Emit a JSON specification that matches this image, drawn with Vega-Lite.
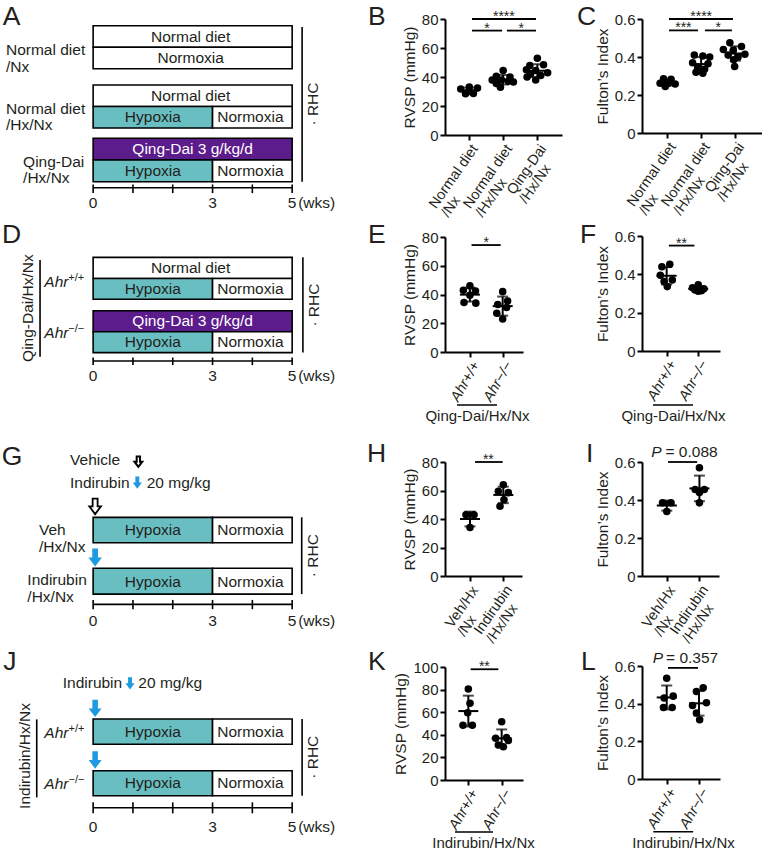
{
"$schema": "https://vega.github.io/schema/vega-lite/v6.json",
"background": "white",
"padding": 0,
"columns": 3,
"spacing": 0,
"align": "each",
"bounds": "flush",
"config": {
 "font": "Liberation Sans",
 "view": {"stroke": null},
 "axis": {"grid": false, "labelOverlap": false, "domainColor": "#000000", "domainWidth": 2, "tickColor": "#000000", "tickWidth": 2, "tickSize": 5, "labelFont": "Liberation Sans", "labelFontSize": 15, "labelColor": "#231f20", "labelPadding": 2, "titleFont": "Liberation Sans", "titleFontSize": 15.5, "titleFontWeight": "normal", "titleColor": "#231f20", "titlePadding": 4},
 "axisY": {"labelOverlap": false},
 "axisLeft": {"labelOverlap": false},
 "axisQuantitative": {"labelOverlap": false},
 "text": {"font": "Liberation Sans", "fontSize": 15.5, "color": "#231f20"}
},
"datasets": {
 "sA": [
  {"el":"L","x":-2.27,"y":1.16,"label":"A"},
  {"el":"lab","x":-2.19,"y":2.34,"label":"Normal diet\n/Nx"},
  {"el":"lab","x":-2.19,"y":5.05,"label":"Normal diet\n/Hx/Nx"},
  {"el":"lab","x":-1.76,"y":7.53,"label":"Qing-Dai\n/Hx/Nx"},
  {"el":"box","x":0,"x2":5,"y":1.2,"y2":2.2,"kind":"Normal diet"},
  {"el":"box","x":0,"x2":5,"y":2.2,"y2":3.2,"kind":"Normoxia"},
  {"el":"box","x":0,"x2":5,"y":3.95,"y2":4.95,"kind":"Normal diet"},
  {"el":"box","x":0,"x2":3,"y":4.95,"y2":5.95,"kind":"Hypoxia"},
  {"el":"box","x":3,"x2":5,"y":4.95,"y2":5.95,"kind":"Normoxia"},
  {"el":"box","x":0,"x2":5,"y":6.43,"y2":7.44,"kind":"Qing-Dai"},
  {"el":"box","x":0,"x2":3,"y":7.44,"y2":8.45,"kind":"Hypoxia"},
  {"el":"box","x":3,"x2":5,"y":7.44,"y2":8.45,"kind":"Normoxia"},
  {"el":"bt","x":2.45,"y":1.7,"label":"Normal diet","kind":"Normal diet"},
  {"el":"bt","x":2.45,"y":2.7,"label":"Normoxia","kind":"Normoxia"},
  {"el":"bt","x":2.45,"y":4.45,"label":"Normal diet","kind":"Normal diet"},
  {"el":"bt","x":1.5,"y":5.45,"label":"Hypoxia","kind":"Hypoxia"},
  {"el":"bt","x":3.95,"y":5.45,"label":"Normoxia","kind":"Normoxia"},
  {"el":"bt","x":2.5,"y":6.94,"label":"Qing-Dai 3 g/kg/d","kind":"Qing-Dai"},
  {"el":"bt","x":1.5,"y":7.95,"label":"Hypoxia","kind":"Hypoxia"},
  {"el":"bt","x":3.95,"y":7.95,"label":"Normoxia","kind":"Normoxia"},
  {"el":"hr","x":0,"x2":5,"y":8.73},
  {"el":"vr","x":0,"y":8.58,"y2":8.98},
  {"el":"vr","x":1,"y":8.58,"y2":8.98},
  {"el":"vr","x":2,"y":8.58,"y2":8.98},
  {"el":"vr","x":3,"y":8.58,"y2":8.98},
  {"el":"vr","x":4,"y":8.58,"y2":8.98},
  {"el":"vr","x":5,"y":8.58,"y2":8.98},
  {"el":"tl","x":0,"y":9.42,"label":"0"},
  {"el":"tl","x":3,"y":9.42,"label":"3"},
  {"el":"tl","x":5,"y":9.42,"label":"5"},
  {"el":"lab","x":5.15,"y":9.42,"label":"(wks)"},
  {"el":"vr","x":5.25,"y":1.25,"y2":8.45},
  {"el":"rot","x":5.53,"y":4.84,"label":"· RHC"}
 ],
 "sD": [
  {"el":"L","x":-2.29,"y":1.316,"label":"D"},
  {"el":"rot","x":-1.636,"y":4.33,"label":"Qing-Dai/Hx/Nx"},
  {"el":"vr","x":-1.334,"y":2.09,"y2":6.59},
  {"el":"it","x":-1.227,"y":3.36,"label":"Ahr"},
  {"el":"sup","x":-0.623,"y":3.36,"label":"+/+"},
  {"el":"it","x":-1.227,"y":5.74,"label":"Ahr"},
  {"el":"sup","x":-0.623,"y":5.74,"label":"−/−"},
  {"el":"box","x":0,"x2":5,"y":1.97,"y2":2.95,"kind":"Normal diet"},
  {"el":"box","x":0,"x2":3,"y":2.95,"y2":3.92,"kind":"Hypoxia"},
  {"el":"box","x":3,"x2":5,"y":2.95,"y2":3.92,"kind":"Normoxia"},
  {"el":"box","x":0,"x2":5,"y":4.45,"y2":5.43,"kind":"Qing-Dai"},
  {"el":"box","x":0,"x2":3,"y":5.43,"y2":6.4,"kind":"Hypoxia"},
  {"el":"box","x":3,"x2":5,"y":5.43,"y2":6.4,"kind":"Normoxia"},
  {"el":"bt","x":2.45,"y":2.46,"label":"Normal diet","kind":"Normal diet"},
  {"el":"bt","x":1.5,"y":3.435,"label":"Hypoxia","kind":"Hypoxia"},
  {"el":"bt","x":3.95,"y":3.435,"label":"Normoxia","kind":"Normoxia"},
  {"el":"bt","x":2.5,"y":4.94,"label":"Qing-Dai 3 g/kg/d","kind":"Qing-Dai"},
  {"el":"bt","x":1.5,"y":5.915,"label":"Hypoxia","kind":"Hypoxia"},
  {"el":"bt","x":3.95,"y":5.915,"label":"Normoxia","kind":"Normoxia"},
  {"el":"hr","x":0,"x2":5,"y":6.79},
  {"el":"vr","x":0,"y":6.63,"y2":6.98},
  {"el":"vr","x":1,"y":6.63,"y2":6.98},
  {"el":"vr","x":2,"y":6.63,"y2":6.98},
  {"el":"vr","x":3,"y":6.63,"y2":6.98},
  {"el":"vr","x":4,"y":6.63,"y2":6.98},
  {"el":"vr","x":5,"y":6.63,"y2":6.98},
  {"el":"tl","x":0,"y":7.47,"label":"0"},
  {"el":"tl","x":3,"y":7.47,"label":"3"},
  {"el":"tl","x":5,"y":7.47,"label":"5"},
  {"el":"lab","x":5.15,"y":7.47,"label":"(wks)"},
  {"el":"vr","x":5.27,"y":1.97,"y2":6.4},
  {"el":"rot","x":5.55,"y":4.19,"label":"· RHC"}
 ],
 "sG": [
  {"el":"L","x":-2.297,"y":2.33,"label":"G"},
  {"el":"lab","x":-0.58,"y":2.09,"label":"Vehicle"},
  {"el":"aos","x":1.136,"y":2.17},
  {"el":"lab","x":-0.58,"y":3.18,"label":"Indirubin"},
  {"el":"abs","x":1.11,"y":3.14},
  {"el":"lab","x":1.347,"y":3.18,"label":"20 mg/kg"},
  {"el":"ao","x":0.05,"y":4.25},
  {"el":"box","x":0,"x2":3,"y":4.76,"y2":5.94,"kind":"Hypoxia"},
  {"el":"box","x":3,"x2":5,"y":4.76,"y2":5.94,"kind":"Normoxia"},
  {"el":"bt","x":1.5,"y":5.37,"label":"Hypoxia","kind":"Hypoxia"},
  {"el":"bt","x":3.95,"y":5.37,"label":"Normoxia","kind":"Normoxia"},
  {"el":"ab","x":0.05,"y":6.63},
  {"el":"box","x":0,"x2":3,"y":7.13,"y2":8.33,"kind":"Hypoxia"},
  {"el":"box","x":3,"x2":5,"y":7.13,"y2":8.33,"kind":"Normoxia"},
  {"el":"bt","x":1.5,"y":7.75,"label":"Hypoxia","kind":"Hypoxia"},
  {"el":"bt","x":3.95,"y":7.75,"label":"Normoxia","kind":"Normoxia"},
  {"el":"lab","x":-1.36,"y":5.35,"label":"Veh\n/Hx/Nx"},
  {"el":"lab","x":-1.653,"y":7.69,"label":"Indirubin\n/Hx/Nx"},
  {"el":"hr","x":0,"x2":5,"y":8.81},
  {"el":"vr","x":0,"y":8.6,"y2":9.03},
  {"el":"vr","x":1,"y":8.6,"y2":9.03},
  {"el":"vr","x":2,"y":8.6,"y2":9.03},
  {"el":"vr","x":3,"y":8.6,"y2":9.03},
  {"el":"vr","x":4,"y":8.6,"y2":9.03},
  {"el":"vr","x":5,"y":8.6,"y2":9.03},
  {"el":"tl","x":0,"y":9.6,"label":"0"},
  {"el":"tl","x":3,"y":9.6,"label":"3"},
  {"el":"tl","x":5,"y":9.6,"label":"5"},
  {"el":"lab","x":5.15,"y":9.6,"label":"(wks)"},
  {"el":"vr","x":5.24,"y":4.76,"y2":8.33},
  {"el":"rot","x":5.52,"y":6.54,"label":"· RHC"}
 ],
 "sJ": [
  {"el":"L","x":-2.26,"y":2.09,"label":"J"},
  {"el":"lab","x":-0.764,"y":2.71,"label":"Indirubin"},
  {"el":"abs","x":0.927,"y":2.71},
  {"el":"lab","x":1.136,"y":2.71,"label":"20 mg/kg"},
  {"el":"ab","x":0.05,"y":3.88},
  {"el":"box","x":0,"x2":3,"y":4.37,"y2":5.55,"kind":"Hypoxia"},
  {"el":"box","x":3,"x2":5,"y":4.37,"y2":5.55,"kind":"Normoxia"},
  {"el":"bt","x":1.5,"y":4.97,"label":"Hypoxia","kind":"Hypoxia"},
  {"el":"bt","x":3.95,"y":4.97,"label":"Normoxia","kind":"Normoxia"},
  {"el":"ab","x":0.05,"y":6.28},
  {"el":"box","x":0,"x2":3,"y":6.78,"y2":7.94,"kind":"Hypoxia"},
  {"el":"box","x":3,"x2":5,"y":6.78,"y2":7.94,"kind":"Normoxia"},
  {"el":"bt","x":1.5,"y":7.37,"label":"Hypoxia","kind":"Hypoxia"},
  {"el":"bt","x":3.95,"y":7.37,"label":"Normoxia","kind":"Normoxia"},
  {"el":"vr","x":-1.417,"y":4.39,"y2":8.02},
  {"el":"rot","x":-1.711,"y":6.09,"label":"Indirubin/Hx/Nx"},
  {"el":"it","x":-1.226,"y":5.27,"label":"Ahr"},
  {"el":"sup","x":-0.62,"y":5.27,"label":"+/+"},
  {"el":"it","x":-1.226,"y":7.64,"label":"Ahr"},
  {"el":"sup","x":-0.62,"y":7.64,"label":"−/−"},
  {"el":"hr","x":0,"x2":5,"y":8.5},
  {"el":"vr","x":0,"y":8.25,"y2":8.76},
  {"el":"vr","x":1,"y":8.25,"y2":8.76},
  {"el":"vr","x":2,"y":8.25,"y2":8.76},
  {"el":"vr","x":3,"y":8.25,"y2":8.76},
  {"el":"vr","x":4,"y":8.25,"y2":8.76},
  {"el":"vr","x":5,"y":8.25,"y2":8.76},
  {"el":"tl","x":0,"y":9.38,"label":"0"},
  {"el":"tl","x":3,"y":9.38,"label":"3"},
  {"el":"tl","x":5,"y":9.38,"label":"5"},
  {"el":"lab","x":5.15,"y":9.38,"label":"(wks)"},
  {"el":"vr","x":5.25,"y":4.37,"y2":7.94},
  {"el":"rot","x":5.53,"y":6.15,"label":"· RHC"}
 ],
 "B": [
  {"g":1,"xp":0.76,"v":31.7},{"g":1,"xp":1.01,"v":33.1},{"g":1,"xp":1.25,"v":32.4},{"g":1,"xp":0.9,"v":28.5},{"g":1,"xp":1.13,"v":28.7},{"g":1,"xp":1.0,"v":30.1},
  {"g":2,"xp":2.0,"v":44.5},{"g":2,"xp":1.8,"v":40.5},{"g":2,"xp":2.2,"v":40},{"g":2,"xp":1.68,"v":38},{"g":2,"xp":1.95,"v":38},{"g":2,"xp":2.15,"v":37},{"g":2,"xp":1.8,"v":35.5},{"g":2,"xp":1.92,"v":33},{"g":2,"xp":2.3,"v":36.5},
  {"g":3,"xp":3.0,"v":53},{"g":3,"xp":2.78,"v":48},{"g":3,"xp":3.18,"v":48.5},{"g":3,"xp":2.68,"v":45},{"g":3,"xp":2.95,"v":44.5},{"g":3,"xp":3.3,"v":43},{"g":3,"xp":2.8,"v":42},{"g":3,"xp":3.1,"v":41},{"g":3,"xp":2.95,"v":38},{"g":3,"xp":2.7,"v":40}
 ],
 "C": [
  {"g":1,"xp":0.9,"v":0.285},{"g":1,"xp":1.12,"v":0.283},{"g":1,"xp":0.8,"v":0.262},{"g":1,"xp":1.03,"v":0.26},{"g":1,"xp":1.24,"v":0.258},{"g":1,"xp":0.95,"v":0.245},
  {"g":2,"xp":1.8,"v":0.41},{"g":2,"xp":2.05,"v":0.405},{"g":2,"xp":2.25,"v":0.4},{"g":2,"xp":1.75,"v":0.37},{"g":2,"xp":2.2,"v":0.365},{"g":2,"xp":1.9,"v":0.345},{"g":2,"xp":2.1,"v":0.335},{"g":2,"xp":1.85,"v":0.32},{"g":2,"xp":2.05,"v":0.315},
  {"g":3,"xp":2.84,"v":0.475},{"g":3,"xp":3.18,"v":0.455},{"g":3,"xp":2.65,"v":0.44},{"g":3,"xp":2.94,"v":0.435},{"g":3,"xp":3.28,"v":0.415},{"g":3,"xp":2.79,"v":0.41},{"g":3,"xp":3.08,"v":0.4},{"g":3,"xp":2.95,"v":0.385},{"g":3,"xp":2.98,"v":0.35}
 ],
 "E": [
  {"g":1,"xp":1.0,"v":46},{"g":1,"xp":0.8,"v":43},{"g":1,"xp":1.17,"v":42.5},{"g":1,"xp":1.0,"v":39.5},{"g":1,"xp":0.82,"v":34.5},{"g":1,"xp":1.18,"v":34},
  {"g":2,"xp":2.0,"v":42},{"g":2,"xp":2.15,"v":35.5},{"g":2,"xp":1.85,"v":33},{"g":2,"xp":2.12,"v":31},{"g":2,"xp":1.82,"v":27},{"g":2,"xp":2.0,"v":23}
 ],
 "F": [
  {"g":1,"xp":1.1,"v":0.452},{"g":1,"xp":0.85,"v":0.44},{"g":1,"xp":0.8,"v":0.395},{"g":1,"xp":1.18,"v":0.37},{"g":1,"xp":0.92,"v":0.362},{"g":1,"xp":1.02,"v":0.336},
  {"g":2,"xp":2.0,"v":0.345},{"g":2,"xp":1.82,"v":0.33},{"g":2,"xp":2.18,"v":0.325},{"g":2,"xp":1.9,"v":0.318},{"g":2,"xp":2.1,"v":0.315},{"g":2,"xp":2.0,"v":0.312}
 ],
 "H": [
  {"g":1,"xp":0.88,"v":43},{"g":1,"xp":1.12,"v":43},{"g":1,"xp":1.0,"v":34},
  {"g":2,"xp":2.0,"v":64},{"g":2,"xp":1.85,"v":59.5},{"g":2,"xp":2.15,"v":58.5},{"g":2,"xp":2.02,"v":53.5},{"g":2,"xp":1.9,"v":49}
 ],
 "I": [
  {"g":1,"xp":0.87,"v":0.386},{"g":1,"xp":1.13,"v":0.386},{"g":1,"xp":1.0,"v":0.34},
  {"g":2,"xp":2.0,"v":0.57},{"g":2,"xp":1.87,"v":0.455},{"g":2,"xp":2.15,"v":0.455},{"g":2,"xp":2.0,"v":0.44},{"g":2,"xp":2.0,"v":0.385}
 ],
 "K": [
  {"g":1,"xp":1.0,"v":80.5},{"g":1,"xp":1.05,"v":68},{"g":1,"xp":0.98,"v":59.5},{"g":1,"xp":0.84,"v":48.5},{"g":1,"xp":1.12,"v":48.5},
  {"g":2,"xp":2.0,"v":51.5},{"g":2,"xp":2.15,"v":37.5},{"g":2,"xp":1.82,"v":37},{"g":2,"xp":2.2,"v":35},{"g":2,"xp":1.9,"v":31},{"g":2,"xp":2.05,"v":29.5}
 ],
 "L": [
  {"g":1,"xp":1.0,"v":0.535},{"g":1,"xp":1.2,"v":0.44},{"g":1,"xp":0.92,"v":0.43},{"g":1,"xp":0.9,"v":0.38},{"g":1,"xp":1.17,"v":0.38},
  {"g":2,"xp":2.13,"v":0.485},{"g":2,"xp":1.92,"v":0.465},{"g":2,"xp":2.23,"v":0.405},{"g":2,"xp":1.8,"v":0.39},{"g":2,"xp":1.92,"v":0.35},{"g":2,"xp":2.02,"v":0.315}
 ],
 "sig": [
  {"p":"B","x1":1.09,"x2":2.96,"xm":2.02,"y":80,"t":"****"},
  {"p":"B","x1":1.09,"x2":1.97,"xm":1.53,"y":72,"t":"*"},
  {"p":"B","x1":2.11,"x2":2.96,"xm":2.53,"y":72,"t":"*"},
  {"p":"C","x1":1.06,"x2":2.93,"xm":2.0,"y":0.6,"t":"****"},
  {"p":"C","x1":1.06,"x2":1.91,"xm":1.48,"y":0.54,"t":"***"},
  {"p":"C","x1":2.11,"x2":2.9,"xm":2.5,"y":0.54,"t":"*"},
  {"p":"E","x1":1.05,"x2":1.94,"xm":1.5,"y":74.4,"t":"*"},
  {"p":"F","x1":1.07,"x2":1.88,"xm":1.47,"y":0.55,"t":"**"},
  {"p":"H","x1":1.15,"x2":1.98,"xm":1.55,"y":80,"t":"**"},
  {"p":"I","x1":1.04,"x2":1.93,"xm":1.5,"y":0.6,"t":""},
  {"p":"K","x1":1.07,"x2":1.9,"xm":1.48,"y":98,"t":"**"},
  {"p":"L","x1":1.04,"x2":1.97,"xm":1.5,"y":0.59,"t":""}
 ],
 "pv": [
  {"p":"I","xP":0.52,"xE":0.96,"y":0.628,"t":"= 0.088"},
  {"p":"L","xP":0.565,"xE":0.98,"y":0.614,"t":"= 0.357"}
 ],
 "ul": [
  {"p":"E","x1":0.606,"x2":1.827,"y":-36.9},
  {"p":"F","x1":0.568,"x2":1.835,"y":-0.282},
  {"p":"K","x1":0.6,"x2":1.74,"y":-46},
  {"p":"L","x1":0.585,"x2":1.82,"y":-0.28}
 ],
 "lt": [
  {"p":"B","x":-1.951,"y":75.9,"t":"B"},
  {"p":"C","x":-1.631,"y":0.568,"t":"C"},
  {"p":"E","x":-2.11,"y":75.6,"t":"E"},
  {"p":"F","x":-1.743,"y":0.562,"t":"F"},
  {"p":"H","x":-2.09,"y":80.2,"t":"H"},
  {"p":"I","x":-1.478,"y":0.6016,"t":"I"},
  {"p":"K","x":-2.01,"y":97.3,"t":"K"},
  {"p":"L","x":-1.654,"y":0.579,"t":"L"}
 ]
},
"concat": [
 {
  "width": 445, "height": 215,
  "data": {"name": "sA"},
  "encoding": {
   "x": {"field": "x", "type": "quantitative", "scale": {"domain": [-2.34, 8.84], "zero": false, "nice": false}, "axis": null},
   "y": {"field": "y", "type": "quantitative", "scale": {"domain": [0, 10], "reverse": true, "zero": false, "nice": false}, "axis": null}
  },
  "layer": [
   {"transform": [{"filter": "datum.el == 'box'"}], "mark": {"type": "rect", "stroke": "#000000", "strokeWidth": 1.6}, "encoding": {"x2": {"field": "x2"}, "y2": {"field": "y2"}, "fill": {"field": "kind", "type": "nominal", "scale": {"domain": ["Normal diet", "Normoxia", "Hypoxia", "Qing-Dai"], "range": ["#ffffff", "#ffffff", "#69bec1", "#5c1c8c"]}, "legend": null}}},
   {"transform": [{"filter": "datum.el == 'bt'"}], "mark": {"type": "text", "align": "center", "baseline": "middle", "fontSize": 15.5}, "encoding": {"text": {"field": "label"}, "color": {"field": "kind", "type": "nominal", "scale": {"domain": ["Normal diet", "Normoxia", "Hypoxia", "Qing-Dai"], "range": ["#231f20", "#231f20", "#231f20", "#ffffff"]}, "legend": null}}},
   {"transform": [{"filter": "datum.el == 'lab'"}], "mark": {"type": "text", "align": "left", "baseline": "middle", "lineBreak": "\n", "lineHeight": 16.5}, "encoding": {"text": {"field": "label"}}},
   {"transform": [{"filter": "datum.el == 'tl'"}], "mark": {"type": "text", "align": "center", "baseline": "middle"}, "encoding": {"text": {"field": "label"}}},
   {"transform": [{"filter": "datum.el == 'rot'"}], "mark": {"type": "text", "align": "center", "baseline": "middle", "angle": 270}, "encoding": {"text": {"field": "label"}}},
   {"transform": [{"filter": "datum.el == 'L'"}], "mark": {"type": "text", "align": "left", "baseline": "alphabetic", "fontSize": 26.5}, "encoding": {"text": {"field": "label"}}},
   {"transform": [{"filter": "datum.el == 'vr'"}], "mark": {"type": "rule", "color": "#000000", "strokeWidth": 1.6}, "encoding": {"y2": {"field": "y2"}}},
   {"transform": [{"filter": "datum.el == 'hr'"}], "mark": {"type": "rule", "color": "#000000", "strokeWidth": 1.6}, "encoding": {"x2": {"field": "x2"}}}
  ]
 },
 {
  "width": 197, "height": 135,
  "layer": [
   {"data": {"name": "B"}, "mark": {"type": "circle", "size": 57, "color": "#000000", "opacity": 1},
    "encoding": {
     "x": {"field": "xp", "type": "quantitative", "title": null, "scale": {"domain": [0.3, 3.72], "range": [0, 117], "zero": false, "nice": false}, "axis": {"values": [1, 2, 3], "labelOverlap": false, "labelExpr": "datum.value == 1 ? ['Normal diet', '/Nx'] : (datum.value == 2 ? ['Normal diet', '/Hx/Nx'] : ['Qing-Dai', '/Hx/Nx'])", "labelAngle": -55, "labelAlign": "left", "labelBaseline": "top", "labelFontSize": 14.5, "labelLineHeight": 15, "labelOffset": {"condition": {"test": "datum.value == 3", "value": -32.8}, "value": -42.5}, "labelPadding": {"condition": {"test": "datum.value == 3", "value": 48.8}, "value": 62.7}}},
     "y": {"field": "v", "type": "quantitative", "title": "RVSP (mmHg)", "scale": {"domain": [0, 80], "range": [135, 19], "zero": false, "nice": false}, "axis": {"values": [0, 20, 40, 60, 80], "labelOverlap": false}}
    }},
   {"data": {"name": "B"}, "mark": {"type": "errorbar", "extent": "stdev", "orient": "vertical", "color": "#000000", "thickness": 2, "size": 11, "ticks": {"size": 11, "thickness": 2, "color": "#000000"}},
    "encoding": {"x": {"field": "g", "type": "quantitative", "title": null, "scale": {"domain": [0.3, 3.72], "range": [0, 117], "zero": false, "nice": false}}, "y": {"field": "v", "type": "quantitative", "title": "RVSP (mmHg)", "scale": {"domain": [0, 80], "range": [135, 19], "zero": false, "nice": false}, "axis": {"values": [0, 20, 40, 60, 80], "labelOverlap": false}}}},
   {"data": {"name": "B"}, "mark": {"type": "tick", "orient": "horizontal", "size": 20, "thickness": 2, "color": "#000000"},
    "encoding": {"x": {"field": "g", "type": "quantitative", "title": null, "scale": {"domain": [0.3, 3.72], "range": [0, 117], "zero": false, "nice": false}}, "y": {"aggregate": "mean", "field": "v", "type": "quantitative", "title": "RVSP (mmHg)", "scale": {"domain": [0, 80], "range": [135, 19], "zero": false, "nice": false}, "axis": {"values": [0, 20, 40, 60, 80], "labelOverlap": false}}}},
   {"data": {"name": "sig"}, "transform": [{"filter": "datum.p == 'B'"}], "mark": {"type": "rule", "color": "#000000", "strokeWidth": 1.8},
    "encoding": {"x": {"field": "x1", "type": "quantitative", "title": null, "scale": {"domain": [0.3, 3.72], "range": [0, 117], "zero": false, "nice": false}}, "x2": {"field": "x2"}, "y": {"field": "y", "type": "quantitative", "title": "RVSP (mmHg)", "scale": {"domain": [0, 80], "range": [135, 19], "zero": false, "nice": false}, "axis": {"values": [0, 20, 40, 60, 80], "labelOverlap": false}}}},
   {"data": {"name": "sig"}, "transform": [{"filter": "datum.p == 'B'"}], "mark": {"type": "text", "fontSize": 14, "align": "center", "baseline": "alphabetic", "dy": 2},
    "encoding": {"x": {"field": "xm", "type": "quantitative", "title": null, "scale": {"domain": [0.3, 3.72], "range": [0, 117], "zero": false, "nice": false}}, "y": {"field": "y", "type": "quantitative", "title": "RVSP (mmHg)", "scale": {"domain": [0, 80], "range": [135, 19], "zero": false, "nice": false}, "axis": {"values": [0, 20, 40, 60, 80], "labelOverlap": false}}, "text": {"field": "t"}}},
   {"data": {"name": "lt"}, "transform": [{"filter": "datum.p == 'B'"}], "mark": {"type": "text", "fontSize": 26.5, "align": "left", "baseline": "alphabetic"},
    "encoding": {"x": {"field": "x", "type": "quantitative", "title": null, "scale": {"domain": [0.3, 3.72], "range": [0, 117], "zero": false, "nice": false}}, "y": {"field": "y", "type": "quantitative", "title": "RVSP (mmHg)", "scale": {"domain": [0, 80], "range": [135, 19], "zero": false, "nice": false}, "axis": {"values": [0, 20, 40, 60, 80], "labelOverlap": false}}, "text": {"field": "t"}}}
  ]
 },
 {
  "width": 120, "height": 133,
  "layer": [
   {"data": {"name": "C"}, "mark": {"type": "circle", "size": 57, "color": "#000000", "opacity": 1},
    "encoding": {
     "x": {"field": "xp", "type": "quantitative", "title": null, "scale": {"domain": [0.27, 3.78], "zero": false, "nice": false}, "axis": {"values": [1, 2, 3], "labelOverlap": false, "labelExpr": "datum.value == 1 ? ['Normal diet', '/Nx'] : (datum.value == 2 ? ['Normal diet', '/Hx/Nx'] : ['Qing-Dai', '/Hx/Nx'])", "labelAngle": -55, "labelAlign": "left", "labelBaseline": "top", "labelFontSize": 14.5, "labelLineHeight": 15, "labelOffset": {"condition": {"test": "datum.value == 3", "value": -32.8}, "value": -42.5}, "labelPadding": {"condition": {"test": "datum.value == 3", "value": 48.8}, "value": 62.7}}},
     "y": {"field": "v", "type": "quantitative", "title": "Fulton’s Index", "scale": {"domain": [0, 0.6], "range": [133, 19], "zero": false, "nice": false}, "axis": {"values": [0, 0.2, 0.4, 0.6], "format": ".1~f", "labelOverlap": false}}
    }},
   {"data": {"name": "C"}, "mark": {"type": "errorbar", "extent": "stdev", "orient": "vertical", "color": "#000000", "thickness": 2, "size": 11, "ticks": {"size": 11, "thickness": 2, "color": "#000000"}},
    "encoding": {"x": {"field": "g", "type": "quantitative", "title": null, "scale": {"domain": [0.27, 3.78], "zero": false, "nice": false}}, "y": {"field": "v", "type": "quantitative", "title": "Fulton’s Index", "scale": {"domain": [0, 0.6], "range": [133, 19], "zero": false, "nice": false}, "axis": {"values": [0, 0.2, 0.4, 0.6], "format": ".1~f", "labelOverlap": false}}}},
   {"data": {"name": "C"}, "mark": {"type": "tick", "orient": "horizontal", "size": 20, "thickness": 2, "color": "#000000"},
    "encoding": {"x": {"field": "g", "type": "quantitative", "title": null, "scale": {"domain": [0.27, 3.78], "zero": false, "nice": false}}, "y": {"aggregate": "mean", "field": "v", "type": "quantitative", "title": "Fulton’s Index", "scale": {"domain": [0, 0.6], "range": [133, 19], "zero": false, "nice": false}, "axis": {"values": [0, 0.2, 0.4, 0.6], "format": ".1~f", "labelOverlap": false}}}},
   {"data": {"name": "sig"}, "transform": [{"filter": "datum.p == 'C'"}], "mark": {"type": "rule", "color": "#000000", "strokeWidth": 1.8},
    "encoding": {"x": {"field": "x1", "type": "quantitative", "title": null, "scale": {"domain": [0.27, 3.78], "zero": false, "nice": false}}, "x2": {"field": "x2"}, "y": {"field": "y", "type": "quantitative", "title": "Fulton’s Index", "scale": {"domain": [0, 0.6], "range": [133, 19], "zero": false, "nice": false}, "axis": {"values": [0, 0.2, 0.4, 0.6], "format": ".1~f", "labelOverlap": false}}}},
   {"data": {"name": "sig"}, "transform": [{"filter": "datum.p == 'C'"}], "mark": {"type": "text", "fontSize": 14, "align": "center", "baseline": "alphabetic", "dy": 2},
    "encoding": {"x": {"field": "xm", "type": "quantitative", "title": null, "scale": {"domain": [0.27, 3.78], "zero": false, "nice": false}}, "y": {"field": "y", "type": "quantitative", "title": "Fulton’s Index", "scale": {"domain": [0, 0.6], "range": [133, 19], "zero": false, "nice": false}, "axis": {"values": [0, 0.2, 0.4, 0.6], "format": ".1~f", "labelOverlap": false}}, "text": {"field": "t"}}},
   {"data": {"name": "lt"}, "transform": [{"filter": "datum.p == 'C'"}], "mark": {"type": "text", "fontSize": 26.5, "align": "left", "baseline": "alphabetic"},
    "encoding": {"x": {"field": "x", "type": "quantitative", "title": null, "scale": {"domain": [0.27, 3.78], "zero": false, "nice": false}}, "y": {"field": "y", "type": "quantitative", "title": "Fulton’s Index", "scale": {"domain": [0, 0.6], "range": [133, 19], "zero": false, "nice": false}, "axis": {"values": [0, 0.2, 0.4, 0.6], "format": ".1~f", "labelOverlap": false}}, "text": {"field": "t"}}}
  ]
 },
 {
  "width": 445, "height": 200,
  "data": {"name": "sD"},
  "encoding": {
   "x": {"field": "x", "type": "quantitative", "scale": {"domain": [-2.34, 8.84], "zero": false, "nice": false}, "axis": null},
   "y": {"field": "y", "type": "quantitative", "scale": {"domain": [0, 9.302], "reverse": true, "zero": false, "nice": false}, "axis": null}
  },
  "layer": [
   {"transform": [{"filter": "datum.el == 'box'"}], "mark": {"type": "rect", "stroke": "#000000", "strokeWidth": 1.6}, "encoding": {"x2": {"field": "x2"}, "y2": {"field": "y2"}, "fill": {"field": "kind", "type": "nominal", "scale": {"domain": ["Normal diet", "Normoxia", "Hypoxia", "Qing-Dai"], "range": ["#ffffff", "#ffffff", "#69bec1", "#5c1c8c"]}, "legend": null}}},
   {"transform": [{"filter": "datum.el == 'bt'"}], "mark": {"type": "text", "align": "center", "baseline": "middle", "fontSize": 15.5}, "encoding": {"text": {"field": "label"}, "color": {"field": "kind", "type": "nominal", "scale": {"domain": ["Normal diet", "Normoxia", "Hypoxia", "Qing-Dai"], "range": ["#231f20", "#231f20", "#231f20", "#ffffff"]}, "legend": null}}},
   {"transform": [{"filter": "datum.el == 'lab'"}], "mark": {"type": "text", "align": "left", "baseline": "middle", "lineBreak": "\n", "lineHeight": 16.5}, "encoding": {"text": {"field": "label"}}},
   {"transform": [{"filter": "datum.el == 'tl'"}], "mark": {"type": "text", "align": "center", "baseline": "middle"}, "encoding": {"text": {"field": "label"}}},
   {"transform": [{"filter": "datum.el == 'rot'"}], "mark": {"type": "text", "align": "center", "baseline": "middle", "angle": 270}, "encoding": {"text": {"field": "label"}}},
   {"transform": [{"filter": "datum.el == 'it'"}], "mark": {"type": "text", "align": "left", "baseline": "alphabetic", "fontStyle": "italic"}, "encoding": {"text": {"field": "label"}}},
   {"transform": [{"filter": "datum.el == 'sup'"}], "mark": {"type": "text", "align": "left", "baseline": "alphabetic", "fontSize": 11, "dy": -6}, "encoding": {"text": {"field": "label"}}},
   {"transform": [{"filter": "datum.el == 'L'"}], "mark": {"type": "text", "align": "left", "baseline": "alphabetic", "fontSize": 26.5}, "encoding": {"text": {"field": "label"}}},
   {"transform": [{"filter": "datum.el == 'vr'"}], "mark": {"type": "rule", "color": "#000000", "strokeWidth": 1.6}, "encoding": {"y2": {"field": "y2"}}},
   {"transform": [{"filter": "datum.el == 'hr'"}], "mark": {"type": "rule", "color": "#000000", "strokeWidth": 1.6}, "encoding": {"x2": {"field": "x2"}}}
  ]
 },
 {
  "width": 78, "height": 137,
  "layer": [
   {"data": {"name": "E"}, "mark": {"type": "circle", "size": 57, "color": "#000000", "opacity": 1},
    "encoding": {
     "x": {"field": "xp", "type": "quantitative", "title": "Qing-Dai/Hx/Nx", "scale": {"domain": [0.24, 2.62], "zero": false, "nice": false}, "axis": {"values": [1, 2], "labelOverlap": false, "labelExpr": "datum.value == 1 ? 'Ahr+/+' : 'Ahr−/−'", "labelAngle": -60, "labelAlign": "right", "labelBaseline": "top", "labelFontSize": 14.5, "labelFontStyle": "italic", "titleX": 32, "titleY": 68, "titleBaseline": "alphabetic", "titleFontSize": 15}},
     "y": {"field": "v", "type": "quantitative", "title": "RVSP (mmHg)", "scale": {"domain": [0, 80], "range": [137, 22], "zero": false, "nice": false}, "axis": {"values": [0, 20, 40, 60, 80], "labelOverlap": false}}
    }},
   {"data": {"name": "E"}, "mark": {"type": "errorbar", "extent": "stdev", "orient": "vertical", "color": "#000000", "thickness": 2, "size": 11, "ticks": {"size": 11, "thickness": 2, "color": "#000000"}},
    "encoding": {"x": {"field": "g", "type": "quantitative", "title": "Qing-Dai/Hx/Nx", "scale": {"domain": [0.24, 2.62], "zero": false, "nice": false}}, "y": {"field": "v", "type": "quantitative", "title": "RVSP (mmHg)", "scale": {"domain": [0, 80], "range": [137, 22], "zero": false, "nice": false}, "axis": {"values": [0, 20, 40, 60, 80], "labelOverlap": false}}}},
   {"data": {"name": "E"}, "mark": {"type": "tick", "orient": "horizontal", "size": 20, "thickness": 2, "color": "#000000"},
    "encoding": {"x": {"field": "g", "type": "quantitative", "title": "Qing-Dai/Hx/Nx", "scale": {"domain": [0.24, 2.62], "zero": false, "nice": false}}, "y": {"aggregate": "mean", "field": "v", "type": "quantitative", "title": "RVSP (mmHg)", "scale": {"domain": [0, 80], "range": [137, 22], "zero": false, "nice": false}, "axis": {"values": [0, 20, 40, 60, 80], "labelOverlap": false}}}},
   {"data": {"name": "sig"}, "transform": [{"filter": "datum.p == 'E'"}], "mark": {"type": "rule", "color": "#000000", "strokeWidth": 1.8},
    "encoding": {"x": {"field": "x1", "type": "quantitative", "title": "Qing-Dai/Hx/Nx", "scale": {"domain": [0.24, 2.62], "zero": false, "nice": false}}, "x2": {"field": "x2"}, "y": {"field": "y", "type": "quantitative", "title": "RVSP (mmHg)", "scale": {"domain": [0, 80], "range": [137, 22], "zero": false, "nice": false}, "axis": {"values": [0, 20, 40, 60, 80], "labelOverlap": false}}}},
   {"data": {"name": "sig"}, "transform": [{"filter": "datum.p == 'E'"}], "mark": {"type": "text", "fontSize": 14, "align": "center", "baseline": "alphabetic", "dy": 2},
    "encoding": {"x": {"field": "xm", "type": "quantitative", "title": "Qing-Dai/Hx/Nx", "scale": {"domain": [0.24, 2.62], "zero": false, "nice": false}}, "y": {"field": "y", "type": "quantitative", "title": "RVSP (mmHg)", "scale": {"domain": [0, 80], "range": [137, 22], "zero": false, "nice": false}, "axis": {"values": [0, 20, 40, 60, 80], "labelOverlap": false}}, "text": {"field": "t"}}},
   {"data": {"name": "ul"}, "transform": [{"filter": "datum.p == 'E'"}], "mark": {"type": "rule", "color": "#000000", "strokeWidth": 1.6},
    "encoding": {"x": {"field": "x1", "type": "quantitative", "title": "Qing-Dai/Hx/Nx", "scale": {"domain": [0.24, 2.62], "zero": false, "nice": false}}, "x2": {"field": "x2"}, "y": {"field": "y", "type": "quantitative", "title": "RVSP (mmHg)", "scale": {"domain": [0, 80], "range": [137, 22], "zero": false, "nice": false}, "axis": {"values": [0, 20, 40, 60, 80], "labelOverlap": false}}}},
   {"data": {"name": "lt"}, "transform": [{"filter": "datum.p == 'E'"}], "mark": {"type": "text", "fontSize": 26.5, "align": "left", "baseline": "alphabetic"},
    "encoding": {"x": {"field": "x", "type": "quantitative", "title": "Qing-Dai/Hx/Nx", "scale": {"domain": [0.24, 2.62], "zero": false, "nice": false}}, "y": {"field": "y", "type": "quantitative", "title": "RVSP (mmHg)", "scale": {"domain": [0, 80], "range": [137, 22], "zero": false, "nice": false}, "axis": {"values": [0, 20, 40, 60, 80], "labelOverlap": false}}, "text": {"field": "t"}}}
  ]
 },
 {
  "width": 78, "height": 136,
  "layer": [
   {"data": {"name": "F"}, "mark": {"type": "circle", "size": 57, "color": "#000000", "opacity": 1},
    "encoding": {
     "x": {"field": "xp", "type": "quantitative", "title": "Qing-Dai/Hx/Nx", "scale": {"domain": [0.22, 2.69], "zero": false, "nice": false}, "axis": {"values": [1, 2], "labelOverlap": false, "labelExpr": "datum.value == 1 ? 'Ahr+/+' : 'Ahr−/−'", "labelAngle": -60, "labelAlign": "right", "labelBaseline": "top", "labelFontSize": 14.5, "labelFontStyle": "italic", "titleX": 31, "titleY": 69, "titleBaseline": "alphabetic", "titleFontSize": 15}},
     "y": {"field": "v", "type": "quantitative", "title": "Fulton’s Index", "scale": {"domain": [0, 0.6], "range": [136, 21], "zero": false, "nice": false}, "axis": {"values": [0, 0.2, 0.4, 0.6], "format": ".1~f", "labelOverlap": false}}
    }},
   {"data": {"name": "F"}, "mark": {"type": "errorbar", "extent": "stdev", "orient": "vertical", "color": "#000000", "thickness": 2, "size": 11, "ticks": {"size": 11, "thickness": 2, "color": "#000000"}},
    "encoding": {"x": {"field": "g", "type": "quantitative", "title": "Qing-Dai/Hx/Nx", "scale": {"domain": [0.22, 2.69], "zero": false, "nice": false}}, "y": {"field": "v", "type": "quantitative", "title": "Fulton’s Index", "scale": {"domain": [0, 0.6], "range": [136, 21], "zero": false, "nice": false}, "axis": {"values": [0, 0.2, 0.4, 0.6], "format": ".1~f", "labelOverlap": false}}}},
   {"data": {"name": "F"}, "mark": {"type": "tick", "orient": "horizontal", "size": 20, "thickness": 2, "color": "#000000"},
    "encoding": {"x": {"field": "g", "type": "quantitative", "title": "Qing-Dai/Hx/Nx", "scale": {"domain": [0.22, 2.69], "zero": false, "nice": false}}, "y": {"aggregate": "mean", "field": "v", "type": "quantitative", "title": "Fulton’s Index", "scale": {"domain": [0, 0.6], "range": [136, 21], "zero": false, "nice": false}, "axis": {"values": [0, 0.2, 0.4, 0.6], "format": ".1~f", "labelOverlap": false}}}},
   {"data": {"name": "sig"}, "transform": [{"filter": "datum.p == 'F'"}], "mark": {"type": "rule", "color": "#000000", "strokeWidth": 1.8},
    "encoding": {"x": {"field": "x1", "type": "quantitative", "title": "Qing-Dai/Hx/Nx", "scale": {"domain": [0.22, 2.69], "zero": false, "nice": false}}, "x2": {"field": "x2"}, "y": {"field": "y", "type": "quantitative", "title": "Fulton’s Index", "scale": {"domain": [0, 0.6], "range": [136, 21], "zero": false, "nice": false}, "axis": {"values": [0, 0.2, 0.4, 0.6], "format": ".1~f", "labelOverlap": false}}}},
   {"data": {"name": "sig"}, "transform": [{"filter": "datum.p == 'F'"}], "mark": {"type": "text", "fontSize": 14, "align": "center", "baseline": "alphabetic", "dy": 2},
    "encoding": {"x": {"field": "xm", "type": "quantitative", "title": "Qing-Dai/Hx/Nx", "scale": {"domain": [0.22, 2.69], "zero": false, "nice": false}}, "y": {"field": "y", "type": "quantitative", "title": "Fulton’s Index", "scale": {"domain": [0, 0.6], "range": [136, 21], "zero": false, "nice": false}, "axis": {"values": [0, 0.2, 0.4, 0.6], "format": ".1~f", "labelOverlap": false}}, "text": {"field": "t"}}},
   {"data": {"name": "ul"}, "transform": [{"filter": "datum.p == 'F'"}], "mark": {"type": "rule", "color": "#000000", "strokeWidth": 1.6},
    "encoding": {"x": {"field": "x1", "type": "quantitative", "title": "Qing-Dai/Hx/Nx", "scale": {"domain": [0.22, 2.69], "zero": false, "nice": false}}, "x2": {"field": "x2"}, "y": {"field": "y", "type": "quantitative", "title": "Fulton’s Index", "scale": {"domain": [0, 0.6], "range": [136, 21], "zero": false, "nice": false}, "axis": {"values": [0, 0.2, 0.4, 0.6], "format": ".1~f", "labelOverlap": false}}}},
   {"data": {"name": "lt"}, "transform": [{"filter": "datum.p == 'F'"}], "mark": {"type": "text", "fontSize": 26.5, "align": "left", "baseline": "alphabetic"},
    "encoding": {"x": {"field": "x", "type": "quantitative", "title": "Qing-Dai/Hx/Nx", "scale": {"domain": [0.22, 2.69], "zero": false, "nice": false}}, "y": {"field": "y", "type": "quantitative", "title": "Fulton’s Index", "scale": {"domain": [0, 0.6], "range": [136, 21], "zero": false, "nice": false}, "axis": {"values": [0, 0.2, 0.4, 0.6], "format": ".1~f", "labelOverlap": false}}, "text": {"field": "t"}}}
  ]
 },
 {
  "width": 445, "height": 210,
  "data": {"name": "sG"},
  "encoding": {
   "x": {"field": "x", "type": "quantitative", "scale": {"domain": [-2.34, 8.84], "zero": false, "nice": false}, "axis": null},
   "y": {"field": "y", "type": "quantitative", "scale": {"domain": [0, 9.767], "reverse": true, "zero": false, "nice": false}, "axis": null}
  },
  "layer": [
   {"transform": [{"filter": "datum.el == 'box'"}], "mark": {"type": "rect", "stroke": "#000000", "strokeWidth": 1.6}, "encoding": {"x2": {"field": "x2"}, "y2": {"field": "y2"}, "fill": {"field": "kind", "type": "nominal", "scale": {"domain": ["Normal diet", "Normoxia", "Hypoxia", "Qing-Dai"], "range": ["#ffffff", "#ffffff", "#69bec1", "#5c1c8c"]}, "legend": null}}},
   {"transform": [{"filter": "datum.el == 'bt'"}], "mark": {"type": "text", "align": "center", "baseline": "middle", "fontSize": 15.5}, "encoding": {"text": {"field": "label"}, "color": {"field": "kind", "type": "nominal", "scale": {"domain": ["Normal diet", "Normoxia", "Hypoxia", "Qing-Dai"], "range": ["#231f20", "#231f20", "#231f20", "#ffffff"]}, "legend": null}}},
   {"transform": [{"filter": "datum.el == 'lab'"}], "mark": {"type": "text", "align": "left", "baseline": "middle", "lineBreak": "\n", "lineHeight": 16.5}, "encoding": {"text": {"field": "label"}}},
   {"transform": [{"filter": "datum.el == 'tl'"}], "mark": {"type": "text", "align": "center", "baseline": "middle"}, "encoding": {"text": {"field": "label"}}},
   {"transform": [{"filter": "datum.el == 'rot'"}], "mark": {"type": "text", "align": "center", "baseline": "middle", "angle": 270}, "encoding": {"text": {"field": "label"}}},
   {"transform": [{"filter": "datum.el == 'L'"}], "mark": {"type": "text", "align": "left", "baseline": "alphabetic", "fontSize": 26.5}, "encoding": {"text": {"field": "label"}}},
   {"transform": [{"filter": "datum.el == 'vr'"}], "mark": {"type": "rule", "color": "#000000", "strokeWidth": 1.6}, "encoding": {"y2": {"field": "y2"}}},
   {"transform": [{"filter": "datum.el == 'hr'"}], "mark": {"type": "rule", "color": "#000000", "strokeWidth": 1.6}, "encoding": {"x2": {"field": "x2"}}},
   {"transform": [{"filter": "datum.el == 'ab'"}], "mark": {"type": "point", "shape": "M-0.32,-1L0.32,-1L0.32,0L0.75,0L0,1L-0.75,0L-0.32,0Z", "filled": true, "size": 324, "color": "#1e9be0", "opacity": 1}, "encoding": {}},
   {"transform": [{"filter": "datum.el == 'ao'"}], "mark": {"type": "point", "shape": "M-0.32,-1L0.32,-1L0.32,0L0.75,0L0,1L-0.75,0L-0.32,0Z", "filled": true, "size": 240, "fill": "#ffffff", "stroke": "#000000", "strokeWidth": 1.8, "opacity": 1}, "encoding": {}},
   {"transform": [{"filter": "datum.el == 'abs'"}], "mark": {"type": "point", "shape": "M-0.32,-1L0.32,-1L0.32,0L0.75,0L0,1L-0.75,0L-0.32,0Z", "filled": true, "size": 150, "color": "#1e9be0", "opacity": 1}, "encoding": {}},
   {"transform": [{"filter": "datum.el == 'aos'"}], "mark": {"type": "point", "shape": "M-0.32,-1L0.32,-1L0.32,0L0.75,0L0,1L-0.75,0L-0.32,0Z", "filled": true, "size": 110, "fill": "#ffffff", "stroke": "#000000", "strokeWidth": 2, "opacity": 1}, "encoding": {}}
  ]
 },
 {
  "width": 77, "height": 161,
  "layer": [
   {"data": {"name": "H"}, "mark": {"type": "circle", "size": 57, "color": "#000000", "opacity": 1},
    "encoding": {
     "x": {"field": "xp", "type": "quantitative", "title": null, "scale": {"domain": [0.25, 2.56], "zero": false, "nice": false}, "axis": {"values": [1, 2], "labelOverlap": false, "labelExpr": "datum.value == 1 ? ['Veh/Hx', '/Nx'] : ['Indirubin', '/Hx/Nx']", "labelAngle": -55, "labelAlign": "left", "labelBaseline": "top", "labelFontSize": 14.5, "labelLineHeight": 15, "labelOffset": {"condition": {"test": "datum.value == 1", "value": -27.3}, "value": -31.9}, "labelPadding": {"condition": {"test": "datum.value == 1", "value": 40.9}, "value": 47.5}}},
     "y": {"field": "v", "type": "quantitative", "title": "RVSP (mmHg)", "scale": {"domain": [0, 80], "range": [161, 47], "zero": false, "nice": false}, "axis": {"values": [0, 20, 40, 60, 80], "labelOverlap": false}}
    }},
   {"data": {"name": "H"}, "mark": {"type": "errorbar", "extent": "stdev", "orient": "vertical", "color": "#000000", "thickness": 2, "size": 11, "ticks": {"size": 11, "thickness": 2, "color": "#000000"}},
    "encoding": {"x": {"field": "g", "type": "quantitative", "title": null, "scale": {"domain": [0.25, 2.56], "zero": false, "nice": false}}, "y": {"field": "v", "type": "quantitative", "title": "RVSP (mmHg)", "scale": {"domain": [0, 80], "range": [161, 47], "zero": false, "nice": false}, "axis": {"values": [0, 20, 40, 60, 80], "labelOverlap": false}}}},
   {"data": {"name": "H"}, "mark": {"type": "tick", "orient": "horizontal", "size": 20, "thickness": 2, "color": "#000000"},
    "encoding": {"x": {"field": "g", "type": "quantitative", "title": null, "scale": {"domain": [0.25, 2.56], "zero": false, "nice": false}}, "y": {"aggregate": "mean", "field": "v", "type": "quantitative", "title": "RVSP (mmHg)", "scale": {"domain": [0, 80], "range": [161, 47], "zero": false, "nice": false}, "axis": {"values": [0, 20, 40, 60, 80], "labelOverlap": false}}}},
   {"data": {"name": "sig"}, "transform": [{"filter": "datum.p == 'H'"}], "mark": {"type": "rule", "color": "#000000", "strokeWidth": 1.8},
    "encoding": {"x": {"field": "x1", "type": "quantitative", "title": null, "scale": {"domain": [0.25, 2.56], "zero": false, "nice": false}}, "x2": {"field": "x2"}, "y": {"field": "y", "type": "quantitative", "title": "RVSP (mmHg)", "scale": {"domain": [0, 80], "range": [161, 47], "zero": false, "nice": false}, "axis": {"values": [0, 20, 40, 60, 80], "labelOverlap": false}}}},
   {"data": {"name": "sig"}, "transform": [{"filter": "datum.p == 'H'"}], "mark": {"type": "text", "fontSize": 14, "align": "center", "baseline": "alphabetic", "dy": 2},
    "encoding": {"x": {"field": "xm", "type": "quantitative", "title": null, "scale": {"domain": [0.25, 2.56], "zero": false, "nice": false}}, "y": {"field": "y", "type": "quantitative", "title": "RVSP (mmHg)", "scale": {"domain": [0, 80], "range": [161, 47], "zero": false, "nice": false}, "axis": {"values": [0, 20, 40, 60, 80], "labelOverlap": false}}, "text": {"field": "t"}}},
   {"data": {"name": "lt"}, "transform": [{"filter": "datum.p == 'H'"}], "mark": {"type": "text", "fontSize": 26.5, "align": "left", "baseline": "alphabetic"},
    "encoding": {"x": {"field": "x", "type": "quantitative", "title": null, "scale": {"domain": [0.25, 2.56], "zero": false, "nice": false}}, "y": {"field": "y", "type": "quantitative", "title": "RVSP (mmHg)", "scale": {"domain": [0, 80], "range": [161, 47], "zero": false, "nice": false}, "axis": {"values": [0, 20, 40, 60, 80], "labelOverlap": false}}, "text": {"field": "t"}}}
  ]
 },
 {
  "width": 77, "height": 161,
  "layer": [
   {"data": {"name": "I"}, "mark": {"type": "circle", "size": 57, "color": "#000000", "opacity": 1},
    "encoding": {
     "x": {"field": "xp", "type": "quantitative", "title": null, "scale": {"domain": [0.24, 2.6], "zero": false, "nice": false}, "axis": {"values": [1, 2], "labelOverlap": false, "labelExpr": "datum.value == 1 ? ['Veh/Hx', '/Nx'] : ['Indirubin', '/Hx/Nx']", "labelAngle": -55, "labelAlign": "left", "labelBaseline": "top", "labelFontSize": 14.5, "labelLineHeight": 15, "labelOffset": {"condition": {"test": "datum.value == 1", "value": -27.3}, "value": -31.9}, "labelPadding": {"condition": {"test": "datum.value == 1", "value": 40.9}, "value": 47.5}}},
     "y": {"field": "v", "type": "quantitative", "title": "Fulton’s Index", "scale": {"domain": [0, 0.6], "range": [161, 47], "zero": false, "nice": false}, "axis": {"values": [0, 0.2, 0.4, 0.6], "format": ".1~f", "labelOverlap": false}}
    }},
   {"data": {"name": "I"}, "mark": {"type": "errorbar", "extent": "stdev", "orient": "vertical", "color": "#000000", "thickness": 2, "size": 11, "ticks": {"size": 11, "thickness": 2, "color": "#000000"}},
    "encoding": {"x": {"field": "g", "type": "quantitative", "title": null, "scale": {"domain": [0.24, 2.6], "zero": false, "nice": false}}, "y": {"field": "v", "type": "quantitative", "title": "Fulton’s Index", "scale": {"domain": [0, 0.6], "range": [161, 47], "zero": false, "nice": false}, "axis": {"values": [0, 0.2, 0.4, 0.6], "format": ".1~f", "labelOverlap": false}}}},
   {"data": {"name": "I"}, "mark": {"type": "tick", "orient": "horizontal", "size": 20, "thickness": 2, "color": "#000000"},
    "encoding": {"x": {"field": "g", "type": "quantitative", "title": null, "scale": {"domain": [0.24, 2.6], "zero": false, "nice": false}}, "y": {"aggregate": "mean", "field": "v", "type": "quantitative", "title": "Fulton’s Index", "scale": {"domain": [0, 0.6], "range": [161, 47], "zero": false, "nice": false}, "axis": {"values": [0, 0.2, 0.4, 0.6], "format": ".1~f", "labelOverlap": false}}}},
   {"data": {"name": "sig"}, "transform": [{"filter": "datum.p == 'I'"}], "mark": {"type": "rule", "color": "#000000", "strokeWidth": 1.8},
    "encoding": {"x": {"field": "x1", "type": "quantitative", "title": null, "scale": {"domain": [0.24, 2.6], "zero": false, "nice": false}}, "x2": {"field": "x2"}, "y": {"field": "y", "type": "quantitative", "title": "Fulton’s Index", "scale": {"domain": [0, 0.6], "range": [161, 47], "zero": false, "nice": false}, "axis": {"values": [0, 0.2, 0.4, 0.6], "format": ".1~f", "labelOverlap": false}}}},
   {"data": {"name": "pv"}, "transform": [{"filter": "datum.p == 'I'"}], "mark": {"type": "text", "fontSize": 15.5, "align": "left", "baseline": "alphabetic", "fontStyle": "italic", "text": "P"},
    "encoding": {"x": {"field": "xP", "type": "quantitative", "title": null, "scale": {"domain": [0.24, 2.6], "zero": false, "nice": false}}, "y": {"field": "y", "type": "quantitative", "title": "Fulton’s Index", "scale": {"domain": [0, 0.6], "range": [161, 47], "zero": false, "nice": false}, "axis": {"values": [0, 0.2, 0.4, 0.6], "format": ".1~f", "labelOverlap": false}}}},
   {"data": {"name": "pv"}, "transform": [{"filter": "datum.p == 'I'"}], "mark": {"type": "text", "fontSize": 15.5, "align": "left", "baseline": "alphabetic"},
    "encoding": {"x": {"field": "xE", "type": "quantitative", "title": null, "scale": {"domain": [0.24, 2.6], "zero": false, "nice": false}}, "y": {"field": "y", "type": "quantitative", "title": "Fulton’s Index", "scale": {"domain": [0, 0.6], "range": [161, 47], "zero": false, "nice": false}, "axis": {"values": [0, 0.2, 0.4, 0.6], "format": ".1~f", "labelOverlap": false}}, "text": {"field": "t"}}},
   {"data": {"name": "lt"}, "transform": [{"filter": "datum.p == 'I'"}], "mark": {"type": "text", "fontSize": 26.5, "align": "left", "baseline": "alphabetic"},
    "encoding": {"x": {"field": "x", "type": "quantitative", "title": null, "scale": {"domain": [0.24, 2.6], "zero": false, "nice": false}}, "y": {"field": "y", "type": "quantitative", "title": "Fulton’s Index", "scale": {"domain": [0, 0.6], "range": [161, 47], "zero": false, "nice": false}, "axis": {"values": [0, 0.2, 0.4, 0.6], "format": ".1~f", "labelOverlap": false}}, "text": {"field": "t"}}}
  ]
 },
 {
  "width": 445, "height": 228,
  "data": {"name": "sJ"},
  "encoding": {
   "x": {"field": "x", "type": "quantitative", "scale": {"domain": [-2.34, 8.84], "zero": false, "nice": false}, "axis": null},
   "y": {"field": "y", "type": "quantitative", "scale": {"domain": [0, 10.605], "reverse": true, "zero": false, "nice": false}, "axis": null}
  },
  "layer": [
   {"transform": [{"filter": "datum.el == 'box'"}], "mark": {"type": "rect", "stroke": "#000000", "strokeWidth": 1.6}, "encoding": {"x2": {"field": "x2"}, "y2": {"field": "y2"}, "fill": {"field": "kind", "type": "nominal", "scale": {"domain": ["Normal diet", "Normoxia", "Hypoxia", "Qing-Dai"], "range": ["#ffffff", "#ffffff", "#69bec1", "#5c1c8c"]}, "legend": null}}},
   {"transform": [{"filter": "datum.el == 'bt'"}], "mark": {"type": "text", "align": "center", "baseline": "middle", "fontSize": 15.5}, "encoding": {"text": {"field": "label"}, "color": {"field": "kind", "type": "nominal", "scale": {"domain": ["Normal diet", "Normoxia", "Hypoxia", "Qing-Dai"], "range": ["#231f20", "#231f20", "#231f20", "#ffffff"]}, "legend": null}}},
   {"transform": [{"filter": "datum.el == 'lab'"}], "mark": {"type": "text", "align": "left", "baseline": "middle", "lineBreak": "\n", "lineHeight": 16.5}, "encoding": {"text": {"field": "label"}}},
   {"transform": [{"filter": "datum.el == 'tl'"}], "mark": {"type": "text", "align": "center", "baseline": "middle"}, "encoding": {"text": {"field": "label"}}},
   {"transform": [{"filter": "datum.el == 'rot'"}], "mark": {"type": "text", "align": "center", "baseline": "middle", "angle": 270}, "encoding": {"text": {"field": "label"}}},
   {"transform": [{"filter": "datum.el == 'it'"}], "mark": {"type": "text", "align": "left", "baseline": "alphabetic", "fontStyle": "italic"}, "encoding": {"text": {"field": "label"}}},
   {"transform": [{"filter": "datum.el == 'sup'"}], "mark": {"type": "text", "align": "left", "baseline": "alphabetic", "fontSize": 11, "dy": -6}, "encoding": {"text": {"field": "label"}}},
   {"transform": [{"filter": "datum.el == 'L'"}], "mark": {"type": "text", "align": "left", "baseline": "alphabetic", "fontSize": 26.5}, "encoding": {"text": {"field": "label"}}},
   {"transform": [{"filter": "datum.el == 'vr'"}], "mark": {"type": "rule", "color": "#000000", "strokeWidth": 1.6}, "encoding": {"y2": {"field": "y2"}}},
   {"transform": [{"filter": "datum.el == 'hr'"}], "mark": {"type": "rule", "color": "#000000", "strokeWidth": 1.6}, "encoding": {"x2": {"field": "x2"}}},
   {"transform": [{"filter": "datum.el == 'ab'"}], "mark": {"type": "point", "shape": "M-0.32,-1L0.32,-1L0.32,0L0.75,0L0,1L-0.75,0L-0.32,0Z", "filled": true, "size": 300, "color": "#1e9be0", "opacity": 1}, "encoding": {}},
   {"transform": [{"filter": "datum.el == 'abs'"}], "mark": {"type": "point", "shape": "M-0.32,-1L0.32,-1L0.32,0L0.75,0L0,1L-0.75,0L-0.32,0Z", "filled": true, "size": 150, "color": "#1e9be0", "opacity": 1}, "encoding": {}}
  ]
 },
 {
  "width": 78, "height": 155,
  "layer": [
   {"data": {"name": "K"}, "mark": {"type": "circle", "size": 57, "color": "#000000", "opacity": 1},
    "encoding": {
     "x": {"field": "xp", "type": "quantitative", "title": "Indirubin/Hx/Nx", "scale": {"domain": [0.3, 2.64], "zero": false, "nice": false}, "axis": {"values": [1, 2], "labelOverlap": false, "labelExpr": "datum.value == 1 ? 'Ahr+/+' : 'Ahr−/−'", "labelAngle": -60, "labelAlign": "right", "labelBaseline": "top", "labelFontSize": 14.5, "labelFontStyle": "italic", "titleX": 38, "titleY": 67, "titleBaseline": "alphabetic", "titleFontSize": 15}},
     "y": {"field": "v", "type": "quantitative", "title": "RVSP (mmHg)", "scale": {"domain": [0, 100], "range": [155, 42], "zero": false, "nice": false}, "axis": {"values": [0, 20, 40, 60, 80, 100], "labelOverlap": false}}
    }},
   {"data": {"name": "K"}, "mark": {"type": "errorbar", "extent": "stdev", "orient": "vertical", "color": "#000000", "thickness": 2, "size": 11, "ticks": {"size": 11, "thickness": 2, "color": "#000000"}},
    "encoding": {"x": {"field": "g", "type": "quantitative", "title": "Indirubin/Hx/Nx", "scale": {"domain": [0.3, 2.64], "zero": false, "nice": false}}, "y": {"field": "v", "type": "quantitative", "title": "RVSP (mmHg)", "scale": {"domain": [0, 100], "range": [155, 42], "zero": false, "nice": false}, "axis": {"values": [0, 20, 40, 60, 80, 100], "labelOverlap": false}}}},
   {"data": {"name": "K"}, "mark": {"type": "tick", "orient": "horizontal", "size": 20, "thickness": 2, "color": "#000000"},
    "encoding": {"x": {"field": "g", "type": "quantitative", "title": "Indirubin/Hx/Nx", "scale": {"domain": [0.3, 2.64], "zero": false, "nice": false}}, "y": {"aggregate": "mean", "field": "v", "type": "quantitative", "title": "RVSP (mmHg)", "scale": {"domain": [0, 100], "range": [155, 42], "zero": false, "nice": false}, "axis": {"values": [0, 20, 40, 60, 80, 100], "labelOverlap": false}}}},
   {"data": {"name": "sig"}, "transform": [{"filter": "datum.p == 'K'"}], "mark": {"type": "rule", "color": "#000000", "strokeWidth": 1.8},
    "encoding": {"x": {"field": "x1", "type": "quantitative", "title": "Indirubin/Hx/Nx", "scale": {"domain": [0.3, 2.64], "zero": false, "nice": false}}, "x2": {"field": "x2"}, "y": {"field": "y", "type": "quantitative", "title": "RVSP (mmHg)", "scale": {"domain": [0, 100], "range": [155, 42], "zero": false, "nice": false}, "axis": {"values": [0, 20, 40, 60, 80, 100], "labelOverlap": false}}}},
   {"data": {"name": "sig"}, "transform": [{"filter": "datum.p == 'K'"}], "mark": {"type": "text", "fontSize": 14, "align": "center", "baseline": "alphabetic", "dy": 2},
    "encoding": {"x": {"field": "xm", "type": "quantitative", "title": "Indirubin/Hx/Nx", "scale": {"domain": [0.3, 2.64], "zero": false, "nice": false}}, "y": {"field": "y", "type": "quantitative", "title": "RVSP (mmHg)", "scale": {"domain": [0, 100], "range": [155, 42], "zero": false, "nice": false}, "axis": {"values": [0, 20, 40, 60, 80, 100], "labelOverlap": false}}, "text": {"field": "t"}}},
   {"data": {"name": "ul"}, "transform": [{"filter": "datum.p == 'K'"}], "mark": {"type": "rule", "color": "#000000", "strokeWidth": 1.6},
    "encoding": {"x": {"field": "x1", "type": "quantitative", "title": "Indirubin/Hx/Nx", "scale": {"domain": [0.3, 2.64], "zero": false, "nice": false}}, "x2": {"field": "x2"}, "y": {"field": "y", "type": "quantitative", "title": "RVSP (mmHg)", "scale": {"domain": [0, 100], "range": [155, 42], "zero": false, "nice": false}, "axis": {"values": [0, 20, 40, 60, 80, 100], "labelOverlap": false}}}},
   {"data": {"name": "lt"}, "transform": [{"filter": "datum.p == 'K'"}], "mark": {"type": "text", "fontSize": 26.5, "align": "left", "baseline": "alphabetic"},
    "encoding": {"x": {"field": "x", "type": "quantitative", "title": "Indirubin/Hx/Nx", "scale": {"domain": [0.3, 2.64], "zero": false, "nice": false}}, "y": {"field": "y", "type": "quantitative", "title": "RVSP (mmHg)", "scale": {"domain": [0, 100], "range": [155, 42], "zero": false, "nice": false}, "axis": {"values": [0, 20, 40, 60, 80, 100], "labelOverlap": false}}, "text": {"field": "t"}}}
  ]
 },
 {
  "width": 78, "height": 154,
  "layer": [
   {"data": {"name": "L"}, "mark": {"type": "circle", "size": 57, "color": "#000000", "opacity": 1},
    "encoding": {
     "x": {"field": "xp", "type": "quantitative", "title": "Indirubin/Hx/Nx", "scale": {"domain": [0.235, 2.65], "zero": false, "nice": false}, "axis": {"values": [1, 2], "labelOverlap": false, "labelExpr": "datum.value == 1 ? 'Ahr+/+' : 'Ahr−/−'", "labelAngle": -60, "labelAlign": "right", "labelBaseline": "top", "labelFontSize": 14.5, "labelFontStyle": "italic", "titleX": 41, "titleY": 68, "titleBaseline": "alphabetic", "titleFontSize": 15}},
     "y": {"field": "v", "type": "quantitative", "title": "Fulton’s Index", "scale": {"domain": [0, 0.6], "range": [154, 41], "zero": false, "nice": false}, "axis": {"values": [0, 0.2, 0.4, 0.6], "format": ".1~f", "labelOverlap": false}}
    }},
   {"data": {"name": "L"}, "mark": {"type": "errorbar", "extent": "stdev", "orient": "vertical", "color": "#000000", "thickness": 2, "size": 11, "ticks": {"size": 11, "thickness": 2, "color": "#000000"}},
    "encoding": {"x": {"field": "g", "type": "quantitative", "title": "Indirubin/Hx/Nx", "scale": {"domain": [0.235, 2.65], "zero": false, "nice": false}}, "y": {"field": "v", "type": "quantitative", "title": "Fulton’s Index", "scale": {"domain": [0, 0.6], "range": [154, 41], "zero": false, "nice": false}, "axis": {"values": [0, 0.2, 0.4, 0.6], "format": ".1~f", "labelOverlap": false}}}},
   {"data": {"name": "L"}, "mark": {"type": "tick", "orient": "horizontal", "size": 20, "thickness": 2, "color": "#000000"},
    "encoding": {"x": {"field": "g", "type": "quantitative", "title": "Indirubin/Hx/Nx", "scale": {"domain": [0.235, 2.65], "zero": false, "nice": false}}, "y": {"aggregate": "mean", "field": "v", "type": "quantitative", "title": "Fulton’s Index", "scale": {"domain": [0, 0.6], "range": [154, 41], "zero": false, "nice": false}, "axis": {"values": [0, 0.2, 0.4, 0.6], "format": ".1~f", "labelOverlap": false}}}},
   {"data": {"name": "sig"}, "transform": [{"filter": "datum.p == 'L'"}], "mark": {"type": "rule", "color": "#000000", "strokeWidth": 1.8},
    "encoding": {"x": {"field": "x1", "type": "quantitative", "title": "Indirubin/Hx/Nx", "scale": {"domain": [0.235, 2.65], "zero": false, "nice": false}}, "x2": {"field": "x2"}, "y": {"field": "y", "type": "quantitative", "title": "Fulton’s Index", "scale": {"domain": [0, 0.6], "range": [154, 41], "zero": false, "nice": false}, "axis": {"values": [0, 0.2, 0.4, 0.6], "format": ".1~f", "labelOverlap": false}}}},
   {"data": {"name": "pv"}, "transform": [{"filter": "datum.p == 'L'"}], "mark": {"type": "text", "fontSize": 15.5, "align": "left", "baseline": "alphabetic", "fontStyle": "italic", "text": "P"},
    "encoding": {"x": {"field": "xP", "type": "quantitative", "title": "Indirubin/Hx/Nx", "scale": {"domain": [0.235, 2.65], "zero": false, "nice": false}}, "y": {"field": "y", "type": "quantitative", "title": "Fulton’s Index", "scale": {"domain": [0, 0.6], "range": [154, 41], "zero": false, "nice": false}, "axis": {"values": [0, 0.2, 0.4, 0.6], "format": ".1~f", "labelOverlap": false}}}},
   {"data": {"name": "pv"}, "transform": [{"filter": "datum.p == 'L'"}], "mark": {"type": "text", "fontSize": 15.5, "align": "left", "baseline": "alphabetic"},
    "encoding": {"x": {"field": "xE", "type": "quantitative", "title": "Indirubin/Hx/Nx", "scale": {"domain": [0.235, 2.65], "zero": false, "nice": false}}, "y": {"field": "y", "type": "quantitative", "title": "Fulton’s Index", "scale": {"domain": [0, 0.6], "range": [154, 41], "zero": false, "nice": false}, "axis": {"values": [0, 0.2, 0.4, 0.6], "format": ".1~f", "labelOverlap": false}}, "text": {"field": "t"}}},
   {"data": {"name": "ul"}, "transform": [{"filter": "datum.p == 'L'"}], "mark": {"type": "rule", "color": "#000000", "strokeWidth": 1.6},
    "encoding": {"x": {"field": "x1", "type": "quantitative", "title": "Indirubin/Hx/Nx", "scale": {"domain": [0.235, 2.65], "zero": false, "nice": false}}, "x2": {"field": "x2"}, "y": {"field": "y", "type": "quantitative", "title": "Fulton’s Index", "scale": {"domain": [0, 0.6], "range": [154, 41], "zero": false, "nice": false}, "axis": {"values": [0, 0.2, 0.4, 0.6], "format": ".1~f", "labelOverlap": false}}}},
   {"data": {"name": "lt"}, "transform": [{"filter": "datum.p == 'L'"}], "mark": {"type": "text", "fontSize": 26.5, "align": "left", "baseline": "alphabetic"},
    "encoding": {"x": {"field": "x", "type": "quantitative", "title": "Indirubin/Hx/Nx", "scale": {"domain": [0.235, 2.65], "zero": false, "nice": false}}, "y": {"field": "y", "type": "quantitative", "title": "Fulton’s Index", "scale": {"domain": [0, 0.6], "range": [154, 41], "zero": false, "nice": false}, "axis": {"values": [0, 0.2, 0.4, 0.6], "format": ".1~f", "labelOverlap": false}}, "text": {"field": "t"}}}
  ]
 }
]
}
